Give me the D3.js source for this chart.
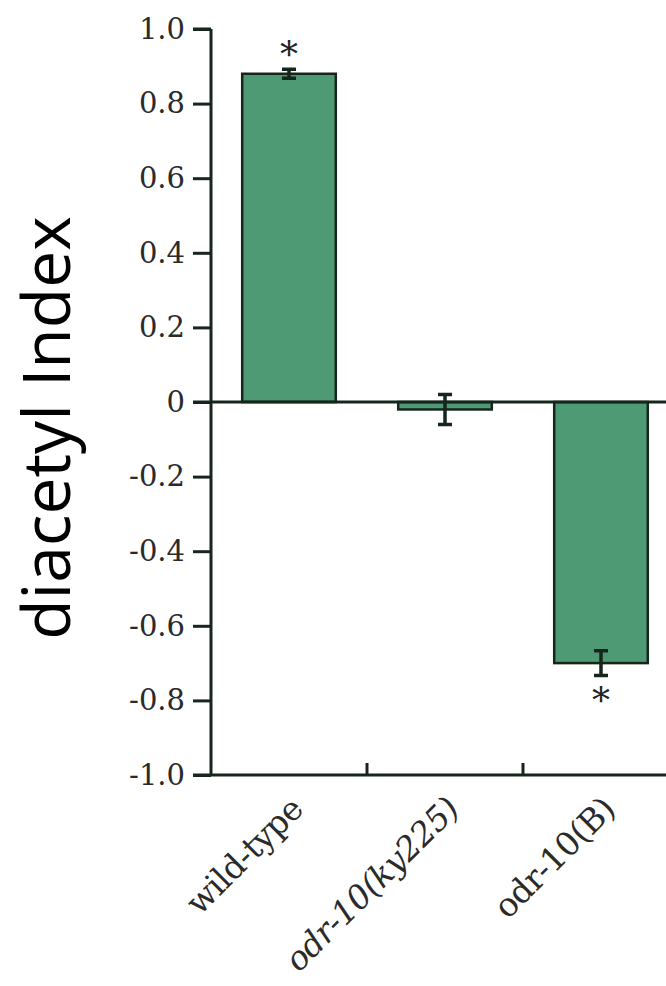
<!DOCTYPE html>
<html><head><meta charset="utf-8">
<script src="https://cdn.jsdelivr.net/npm/d3@7"></script>
<style>body{margin:0;background:#fff}svg{display:block}</style>
</head><body>
<svg id="c" width="666" height="986"></svg>
<script>
const categories = ["wild-type", "odr-10(ky225)", "odr-10(B)"];
const italicCats = [false, true, false];
const values = [0.88, -0.02, -0.70];
const errors = [0.012, 0.04, 0.033];
const significant = [true, false, true];
const yTicks = [1.0, 0.8, 0.6, 0.4, 0.2, 0, -0.2, -0.4, -0.6, -0.8, -1.0];
const yTickLabels = ["1.0","0.8","0.6","0.4","0.2","0","-0.2","-0.4","-0.6","-0.8","-1.0"];
const yTitle = "diacetyl Index";

const svg = d3.select("#c");
const ink = "#17261d", fill = "#4e9a74";
const y = d3.scaleLinear().domain([-1, 1]).range([775, 29]);
const x = d3.scaleBand().domain(categories).range([211, 679]).paddingInner(0.4).paddingOuter(0.2);

// y axis
const yAxis = d3.axisLeft(y).tickValues(yTicks).tickSize(18).tickPadding(8)
  .tickFormat((d,i) => yTickLabels[i]);
const gy = svg.append("g").attr("transform","translate(211,0)").call(yAxis);
gy.select(".domain").attr("d", `M0,${y(1)}H-18M0,${y(1)}V${y(-1)}`).attr("stroke", ink).attr("stroke-width", 3);
gy.selectAll(".tick line").attr("stroke", ink).attr("stroke-width", 3);
gy.selectAll(".tick text").attr("font-family","DejaVu Serif").attr("font-size", 29).attr("fill", "#2a2a2a");

// bars
svg.append("g").selectAll("rect").data(categories).join("rect")
  .attr("x", d => x(d))
  .attr("width", x.bandwidth())
  .attr("y", (d,i) => Math.min(y(values[i]), y(0)))
  .attr("height", (d,i) => Math.abs(y(values[i]) - y(0)))
  .attr("fill", fill).attr("stroke", ink).attr("stroke-width", 2.5);

// zero line
svg.append("line").attr("x1", 193).attr("x2", 666).attr("y1", y(0)).attr("y2", y(0))
  .attr("stroke", ink).attr("stroke-width", 3);

// bottom axis
const xAxis = d3.axisBottom(x).tickSize(0).tickFormat("");
const gx = svg.append("g").attr("transform", `translate(0,${y(-1)})`).call(xAxis);
gx.select(".domain").attr("d", `M193,0H666`).attr("stroke", ink).attr("stroke-width", 3);
const boundaries = categories.slice(1).map(c => x(c) - x.step() * x.paddingInner() / 2);
gx.selectAll(".bt").data(boundaries).join("line").attr("class","bt")
  .attr("x1", d => d).attr("x2", d => d).attr("y1", 0).attr("y2", -12)
  .attr("stroke", ink).attr("stroke-width", 3);

// category labels
svg.append("g").selectAll("text").data(categories).join("text")
  .attr("transform", d => `translate(${x(d) + x.bandwidth()/2 + 16},${y(-1) + 36}) rotate(-45)`)
  .attr("text-anchor", "end")
  .attr("font-family", "DejaVu Serif")
  .attr("font-size", 33)
  .attr("letter-spacing", -0.6)
  .attr("font-style", (d,i) => italicCats[i] ? "italic" : "normal")
  .attr("fill", "#2a2a2a")
  .text(d => d);

// error bars
const eb = svg.append("g").attr("stroke", ink).attr("stroke-width", 3.5).attr("fill", "none");
categories.forEach((c, i) => {
  const cx = x(c) + x.bandwidth()/2;
  const t = y(values[i] + errors[i]), b = y(values[i] - errors[i]);
  eb.append("path").attr("d", `M${cx},${t}V${b}M${cx-7},${t}H${cx+7}M${cx-7},${b}H${cx+7}`);
});

// significance stars
svg.append("g").selectAll("text").data(categories.filter((c,i)=>significant[i])).join("text")
  .attr("x", d => x(d) + x.bandwidth()/2)
  .attr("y", d => { const i = categories.indexOf(d); return values[i] > 0 ? y(values[i] + errors[i]) - 2 : y(values[i] - errors[i]) + 38; })
  .attr("text-anchor", "middle")
  .attr("font-family", "DejaVu Serif").attr("font-size", 36).attr("fill", "#222")
  .text("*");

// y title
svg.append("text")
  .attr("transform", `translate(70,428) rotate(-90)`)
  .attr("text-anchor", "middle")
  .attr("font-family", "Open Sans").attr("font-size", 66).attr("fill", "#000")
  .text(yTitle);
</script>
</body></html>
